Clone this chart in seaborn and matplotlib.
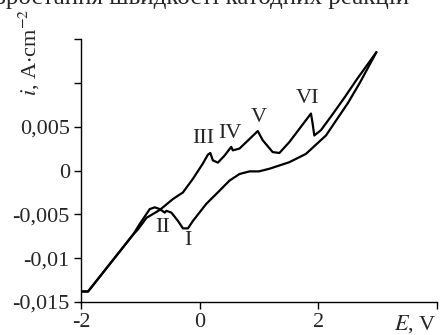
import seaborn as sns
import matplotlib.pyplot as plt
import pandas as pd

# branch with peaks I, II
e_a = [-2.0, -1.88, -1.12, -1.01, -0.84, -0.756, -0.672, -0.588, -0.56, -0.476, -0.365,
       -0.281, -0.197, -0.113, 0.113, 0.336, 0.504, 0.672, 0.84, 1.0, 1.176, 1.513,
       1.793, 2.13, 2.3, 2.5, 2.7, 2.98]
i_a = [-0.0138, -0.0138, -0.0073, -0.0061, -0.0044, -0.0042, -0.0044, -0.0048, -0.0046,
       -0.0048, -0.00575, -0.0066, -0.0066, -0.00575, -0.0038, -0.0023, -0.00115, -0.0004,
       -0.0001, -0.0001, 0.0002, 0.00095, 0.0019, 0.0040, 0.0057, 0.0077, 0.0100, 0.0135]

# branch with peaks III - VI
e_b = [-2.0, -1.88, -1.12, -1.037, -0.896, -0.672, -0.449, -0.281, -0.113, 0.055, 0.139,
       0.18, 0.224, 0.308, 0.42, 0.533, 0.56, 0.672, 0.98, 1.064, 1.232, 1.345, 1.513,
       1.709, 1.877, 1.904, 1.933, 2.045, 2.24, 2.45, 2.65, 2.98]
i_b = [-0.0138, -0.0138, -0.0073, -0.0067, -0.0054, -0.0045, -0.00325, -0.0025, -0.00095,
       0.0008, 0.0018, 0.0020, 0.00115, 0.0009, 0.0017, 0.0027, 0.0023, 0.0025, 0.0045,
       0.00345, 0.0021, 0.0020, 0.00325, 0.0050, 0.0065, 0.0054, 0.0040, 0.0046, 0.0064,
       0.0084, 0.0104, 0.0135]

peak_names = ["I", "II", "III", "IV", "V", "VI"]
peak_e = [-0.197, -0.617, 0.056, 0.504, 0.997, 1.82]
peak_i = [-0.0080, -0.0065, 0.0036, 0.0042, 0.0061, 0.0082]

yticks = [-0.015, -0.01, -0.005, 0, 0.005, 0.01, 0.015]
ylabels = ["-0,015", "-0,01", "-0,005", "0", "0,005", "", ""]
xticks = [-2, 0, 2, 4]
xlabels = ["-2", "0", "2", r"$E$, V"]

sns.set_style("ticks")
plt.rcParams["font.family"] = ["Liberation Serif", "DejaVu Serif"]
plt.rcParams["mathtext.fontset"] = "stix"

fig = plt.figure(figsize=(4.4, 3.35), dpi=100)
ax = fig.add_axes([0.184, 0.0985, 0.809, 0.785])

da = pd.DataFrame({"E": e_a, "i": i_a})
db = pd.DataFrame({"E": e_b, "i": i_b})
sns.lineplot(data=da, x="E", y="i", sort=False, color="black", lw=1.6, ax=ax)
sns.lineplot(data=db, x="E", y="i", sort=False, color="black", lw=1.6, ax=ax)

for name, x, y in zip(peak_names, peak_e, peak_i):
    ax.text(x, y, name, ha="center", va="center", fontsize=16)

ax.set_xlim(-2, 4)
ax.set_ylim(-0.015, 0.015)
ax.set_xticks(xticks)
ax.set_xticklabels(xlabels, fontsize=16)
ax.set_yticks(yticks)
ax.set_yticklabels(ylabels, fontsize=16)
ax.get_xticklabels()[-1].set_horizontalalignment("right")
ax.tick_params(axis="x", length=5, width=1, pad=3, color="black")
ax.tick_params(axis="y", length=5, width=1, pad=3, color="black")
ax.set_xlabel("")
ax.set_ylabel("")
sns.despine(ax=ax)
for s in ["left", "bottom"]:
    ax.spines[s].set_linewidth(1)
    ax.spines[s].set_color("black")

fig.text(0.066, 0.845, r"$i$, A$\cdot$cm$^{-2}$", rotation=90, ha="center", va="center", fontsize=16)
# cropped caption line from the source page
fig.text(-0.01, 1 - 4 / 335, "зростання швидкості катодних реакцій", ha="left", va="baseline", fontsize=18)

fig.savefig("out.png", dpi=100)
